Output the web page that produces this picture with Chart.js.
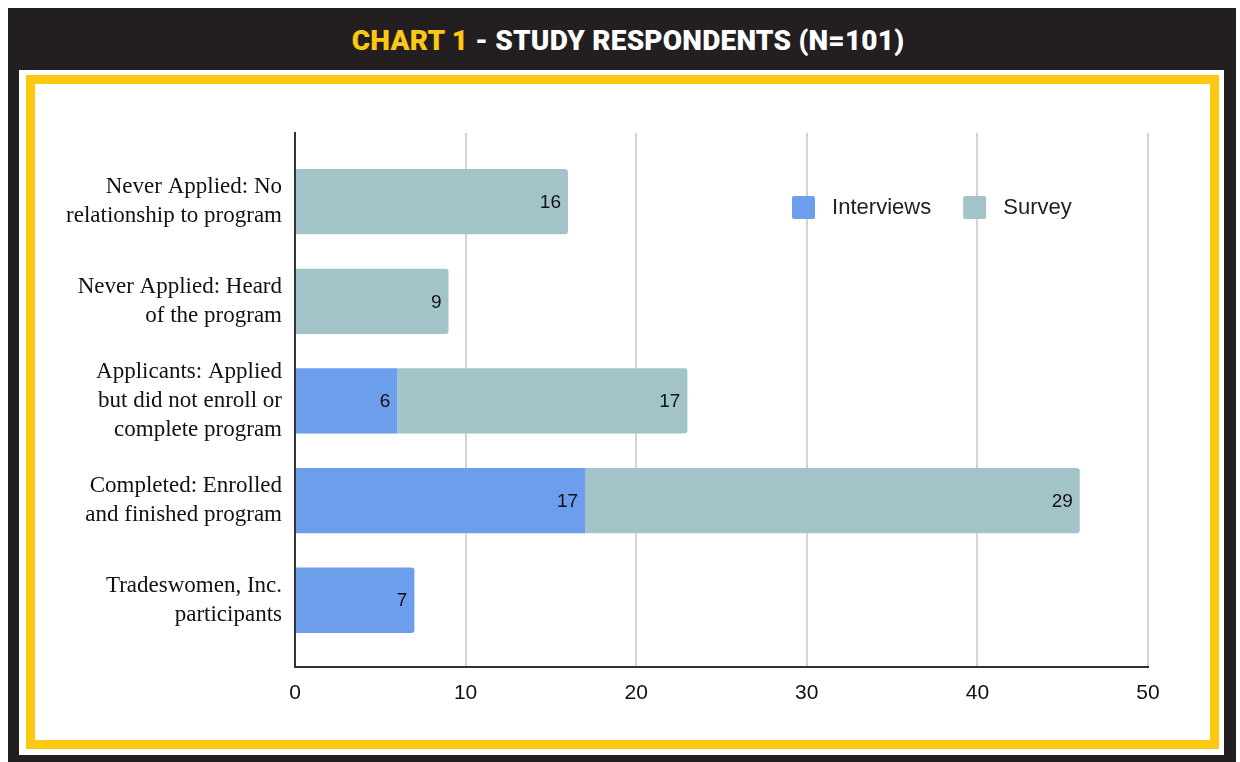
<!DOCTYPE html>
<html>
<head>
<meta charset="utf-8">
<script src="https://cdn.jsdelivr.net/npm/chart.js@4/dist/chart.umd.min.js"></script>
<style>
    body { margin: 0; background: #fff; width: 1240px; height: 762px; position: relative; overflow: hidden; }
    .frame { position: absolute; left: 8px; top: 8px; width: 1228px; height: 754px; background: #231f20; }
    .title { position: absolute; left: 14px; top: 8px; width: 1228px; height: 66px; line-height: 66px; text-align: center;
             font-family: Roboto, sans-serif; font-weight: 900; font-size: 28px; color: #fff; letter-spacing: 0.2px; }
    .title span { color: #fcc812; }
    .inner { position: absolute; left: 19px; top: 70px; width: 1205px; height: 685px; background: #fff; }
    .yellow { position: absolute; left: 26px; top: 75px; width: 1193px; height: 674px; box-sizing: border-box;
              border: 9px solid #fcc812; background: #fff; }
    .box { position: absolute; left: 35px; top: 84px; width: 1175px; height: 656px; }
</style>
</head>
<body>
<div class="frame"></div>
<div class="title"><span>CHART 1</span> - STUDY RESPONDENTS (N=101)</div>
<div class="inner"></div>
<div class="yellow"></div>
<div class="box"><canvas id="chart-js"></canvas></div>
<script>
const categorias = [
    ['Never Applied: No', 'relationship to program'],
    ['Never Applied: Heard', 'of the program'],
    ['Applicants: Applied', 'but did not enroll or', 'complete program'],
    ['Completed: Enrolled', 'and finished program'],
    ['Tradeswomen, Inc.', 'participants']
];
const interviews = [0, 0, 6, 17, 7];
const survey = [16, 9, 17, 29, 0];
const xTicks = [0, 10, 20, 30, 40, 50];

// etiquetas de valor dentro de cada barra
const valueLabels = {
    id: 'valueLabels',
    afterDatasetsDraw(chart) {
        const ctx = chart.ctx;
        ctx.save();
        ctx.font = '19px "Liberation Sans", Arial, sans-serif';
        ctx.fillStyle = '#111';
        ctx.textAlign = 'right';
        ctx.textBaseline = 'middle';
        chart.data.datasets.forEach((ds, i) => {
            chart.getDatasetMeta(i).data.forEach((bar, j) => {
                const v = ds.data[j].x;
                if (v > 0) ctx.fillText(String(v), bar.x - 7, bar.y + 1);
            });
        });
        ctx.restore();
    }
};

// mover la leyenda dentro del area del grafico
const legendInside = {
    id: 'legendInside',
    afterLayout(chart) {
        const lg = chart.legend;
        const p = lg.options.labels.padding;
        lg.left = 757 - p;
        lg.right = chart.width;
        lg.top = 112 - p;
        lg.bottom = lg.top + 100;
    }
};

const data = {
    datasets: [
        {
            label: 'Interviews',
            data: interviews.map((v, i) => ({ x: v, y: i })),
            backgroundColor: '#6d9eeb',
            borderRadius: c => survey[c.dataIndex] > 0 ? 0 : 3,
            borderSkipped: 'start',
            barPercentage: 0.655,
            categoryPercentage: 1
        },
        {
            label: 'Survey',
            data: survey.map((v, i) => ({ x: v, y: i })),
            backgroundColor: '#a2c4c9',
            borderRadius: 3,
            borderSkipped: 'start',
            barPercentage: 0.655,
            categoryPercentage: 1
        }
    ]
};

const config = {
    type: 'bar',
    data: data,
    options: {
        indexAxis: 'y',
        responsive: true,
        maintainAspectRatio: false,
        animation: false,
        layout: { padding: { top: 48, right: 62, bottom: 0, left: 0 } },
        plugins: {
            tooltip: { enabled: false },
            legend: {
                position: 'top',
                align: 'start',
                maxHeight: 1,
                labels: {
                    boxWidth: 23,
                    boxHeight: 23,
                    padding: 32,
                    color: '#222',
                    useBorderRadius: true,
                    borderRadius: 2,
                    font: { family: '"Liberation Sans", Arial, sans-serif', size: 22 },
                    generateLabels: c => Chart.defaults.plugins.legend.labels.generateLabels(c)
                        .map(l => ({ ...l, text: ' ' + l.text }))
                }
            }
        },
        scales: {
            x: {
                stacked: true,
                min: 0,
                max: 50,
                afterBuildTicks: s => { s.ticks = xTicks.map(v => ({ value: v })); },
                afterFit: s => { s.height = 73; },
                grid: { color: '#d3d3d3', lineWidth: 2, drawTicks: false },
                border: { color: '#333', width: 2 },
                ticks: {
                    padding: 14,
                    color: '#111',
                    font: { family: '"Liberation Sans", Arial, sans-serif', size: 21 }
                }
            },
            y: {
                type: 'linear',
                stacked: true,
                reverse: true,
                offset: false,
                min: -0.69,
                max: 4.67,
                afterBuildTicks: s => { s.ticks = categorias.map((c, i) => ({ value: i })); },
                afterFit: s => { s.width = 260; },
                grid: { display: false },
                border: { color: '#333', width: 2 },
                ticks: {
                    padding: 5,
                    color: '#111',
                    callback: v => categorias[v],
                    font: { family: '"Liberation Serif", "Times New Roman", serif', size: 23, lineHeight: 1.27 }
                }
            }
        }
    },
    plugins: [valueLabels, legendInside]
};

const ctx = document.getElementById('chart-js');
const chart = new Chart(ctx, config);
</script>
</body>
</html>
